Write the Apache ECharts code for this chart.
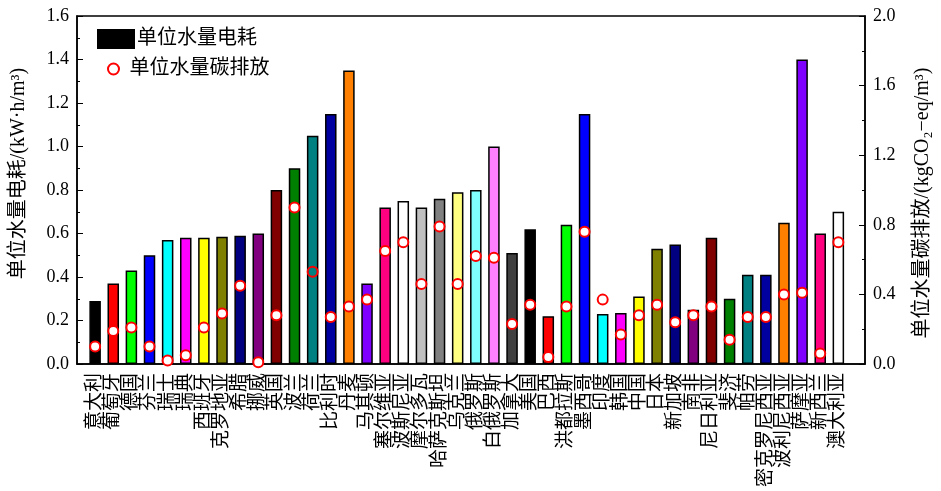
<!DOCTYPE html>
<html>
<head>
<meta charset="utf-8">
<script src="https://cdn.jsdelivr.net/npm/echarts@6/dist/echarts.min.js"></script>
<style>
  html, body { margin: 0; padding: 0; background: #fff; }
  #chart { width: 941px; height: 491px; }
</style>
</head>
<body>
<div id="chart"></div>
<script>
// 国家/地区
var countries = ['意大利', '葡萄牙', '德国', '芬兰', '瑞士', '瑞典', '西班牙', '克罗地亚', '希腊', '挪威',
  '英国', '波兰', '荷兰', '比利时', '丹麦', '马其顿', '塞尔维亚', '波斯尼亚', '摩尔多瓦', '哈萨克斯坦',
  '乌克兰', '俄罗斯', '白俄罗斯', '加拿大', '美国', '巴西', '洪都拉斯', '墨西哥', '印度', '韩国',
  '中国', '日本', '新加坡', '南非', '尼日利亚', '斐济', '帕劳', '密克罗尼西亚', '波利尼西亚', '萨摩亚',
  '新西兰', '澳大利亚']
// 单位水量电耗 kW·h/m3
var electric = [0.29, 0.37, 0.43, 0.50, 0.57, 0.58, 0.58, 0.585, 0.59, 0.60,
  0.80, 0.90, 1.05, 1.15, 1.35, 0.37, 0.72, 0.75, 0.72, 0.76,
  0.79, 0.80, 1.00, 0.51, 0.62, 0.22, 0.64, 1.15, 0.23, 0.235,
  0.31, 0.53, 0.55, 0.25, 0.58, 0.30, 0.41, 0.41, 0.65, 1.40,
  0.60, 0.70]
// 单位水量碳排放 kgCO2-eq/m3
var carbon = [0.10, 0.19, 0.21, 0.10, 0.02, 0.05, 0.21, 0.29, 0.45, 0.01,
  0.28, 0.90, 0.53, 0.27, 0.33, 0.37, 0.65, 0.70, 0.46, 0.79,
  0.46, 0.62, 0.61, 0.23, 0.34, 0.04, 0.33, 0.76, 0.37, 0.17,
  0.28, 0.34, 0.24, 0.28, 0.33, 0.14, 0.27, 0.27, 0.40, 0.41,
  0.06, 0.70]
// 柱子颜色
var barColors = ['#000000', '#ff0000', '#00ff00', '#0000ff', '#00ffff', '#ff00ff', '#ffff00', '#808000',
  '#000080', '#800080', '#800000', '#008000', '#008080', '#0000a0', '#ff8000', '#8000ff',
  '#ff0080', '#ffffff', '#c0c0c0', '#808080', '#ffff80', '#80ffff', '#ff80ff', '#404040',
  '#000000', '#ff0000', '#00ff00', '#0000ff', '#00ffff', '#ff00ff', '#ffff00', '#808000',
  '#000080', '#800080', '#800000', '#008000', '#008080', '#0000a0', '#ff8000', '#8000ff',
  '#ff0080', '#ffffff']
// 空心点
var hollowIdx = [12]

var serif = 'Liberation Serif, Noto Sans CJK SC'
var myChart = echarts.init(document.getElementById('chart'))

var barData = electric.map(function (v, i) {
  return { value: [i, v], itemStyle: { color: barColors[i] } }
})
var dotData = carbon.map(function (v, i) {
  var d = { value: [i, v] }
  if (hollowIdx.indexOf(i) >= 0) d.itemStyle = { color: 'rgba(0,0,0,0)' }
  return d
})

var option = {
  backgroundColor: '#fff',
  animation: false,
  textStyle: { fontFamily: serif, color: '#000' },
  grid: {
    left: 77, right: 69, top: 16, bottom: 127,
    show: true, borderColor: '#000', borderWidth: 1.5, backgroundColor: 'rgba(0,0,0,0)'
  },
  legend: [
    {
      data: ['单位水量电耗'], icon: 'rect', left: 97, top: 29, padding: 0,
      itemWidth: 36, itemHeight: 18, itemGap: 4,
      textStyle: { fontSize: 20, color: '#000', fontFamily: serif, padding: [0, 0, 0, -2] }
    },
    {
      // 圆点图例靠左绘制，左边距调大使其居中
      data: ['单位水量碳排放'], icon: 'circle', left: 107, top: 59, padding: 0,
      itemWidth: 26, itemHeight: 11, itemGap: 4,
      textStyle: { fontSize: 20, color: '#000', fontFamily: serif, padding: [0, 0, 0, -2] }
    }
  ],
  xAxis: {
    type: 'value',
    min: -1,
    max: 42.47,
    interval: 1,
    splitLine: { show: false },
    axisTick: { show: false },
    axisLine: { show: true, onZero: false, lineStyle: { color: '#000', width: 1.5 } },
    axisLabel: {
      rotate: 90,
      margin: 9,
      fontSize: 19,
      color: '#000',
      fontFamily: serif,
      showMinLabel: false,
      showMaxLabel: false,
      formatter: function (v) {
        return countries[v] || ''
      }
    }
  },
  yAxis: [
    {
      type: 'value',
      min: 0, max: 1.6, interval: 0.2,
      name: '单位水量电耗/(kW·h/m³)',
      nameLocation: 'middle',
      nameGap: 48,
      nameTextStyle: { fontSize: 20, color: '#000', fontFamily: serif, padding: [0, 0, 0, 33] },
      splitLine: { show: false },
      axisLine: { show: true, onZero: false, lineStyle: { color: '#000', width: 1.5 } },
      axisTick: { show: true, inside: true, length: 6, lineStyle: { color: '#000', width: 1 } },
      minorTick: { show: true, splitNumber: 2, length: 3, lineStyle: { color: '#000', width: 1 } },
      axisLabel: {
        fontSize: 18, color: '#000', fontFamily: serif, margin: 8,
        formatter: function (v) { return v.toFixed(1) }
      }
    },
    {
      type: 'value',
      min: 0, max: 2.0, interval: 0.4,
      name: '单位水量碳排放/(kgCO₂−eq/m³)',
      nameLocation: 'middle',
      nameGap: 48,
      nameTextStyle: { fontSize: 20, color: '#000', fontFamily: serif, padding: [0, 26, 0, 0] },
      splitLine: { show: false },
      axisLine: { show: true, onZero: false, lineStyle: { color: '#000', width: 1.5 } },
      axisTick: { show: true, inside: true, length: 6, lineStyle: { color: '#000', width: 1 } },
      minorTick: { show: true, splitNumber: 2, length: 3, lineStyle: { color: '#000', width: 1 } },
      axisLabel: {
        fontSize: 18, color: '#000', fontFamily: serif, margin: 8,
        formatter: function (v) { return v.toFixed(1) }
      }
    }
  ],
  series: [
    {
      name: '单位水量电耗',
      type: 'bar',
      barWidth: 11.5,
      data: barData,
      itemStyle: { color: '#000', borderColor: '#000', borderWidth: 1.5 }
    },
    {
      name: '单位水量碳排放',
      type: 'scatter',
      yAxisIndex: 1,
      symbolSize: 10,
      z: 5,
      data: dotData,
      itemStyle: { color: '#fff', borderColor: '#ff0000', borderWidth: 2, opacity: 1 }
    }
  ]
}
myChart.setOption(option)
</script>
</body>
</html>
